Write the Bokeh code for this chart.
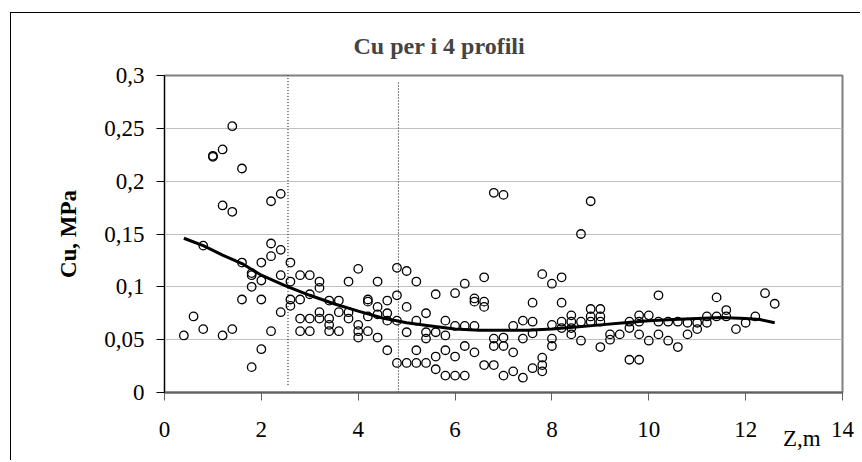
from bokeh.plotting import figure
from bokeh.models import FixedTicker, LinearAxis
from bokeh.embed import file_html
from bokeh.resources import INLINE

# ---- data ----
z_cols = [0.4, 0.6, 0.8, 1.0, 1.2, 1.4, 1.6, 1.8, 2.0, 2.2, 2.4, 2.6, 2.8, 3.0,
          3.2, 3.4, 3.6, 3.8, 4.0, 4.2, 4.4, 4.6, 4.8, 5.0, 5.2, 5.4, 5.6, 5.8,
          6.0, 6.2, 6.4, 6.6, 6.8, 7.0, 7.2, 7.4, 7.6, 7.8, 8.0, 8.2, 8.4, 8.6,
          8.8, 9.0, 9.2, 9.4, 9.6, 9.8, 10.0, 10.2, 10.4, 10.6, 10.8, 11.0,
          11.2, 11.4, 11.6, 11.8, 12.0, 12.2, 12.4, 12.6]

cu_cols = [
    [0.054],                        # 0.4
    [0.072],                        # 0.6
    [0.139, 0.060],                 # 0.8
    [0.224, 0.223],                 # 1.0
    [0.230, 0.177, 0.054],          # 1.2
    [0.252, 0.171, 0.060],          # 1.4
    [0.212, 0.123, 0.088],          # 1.6
    [0.113, 0.111, 0.100, 0.024],   # 1.8
    [0.123, 0.106, 0.088, 0.041],   # 2.0
    [0.181, 0.141, 0.129, 0.058],   # 2.2
    [0.188, 0.135, 0.111, 0.076],   # 2.4
    [0.123, 0.105, 0.088, 0.082],   # 2.6
    [0.111, 0.088, 0.070, 0.058],   # 2.8
    [0.111, 0.093, 0.070, 0.058],   # 3.0
    [0.105, 0.099, 0.076, 0.070],   # 3.2
    [0.087, 0.070, 0.064, 0.058],   # 3.4
    [0.087, 0.076, 0.058],          # 3.6
    [0.105, 0.076, 0.070],          # 3.8
    [0.117, 0.064, 0.058, 0.052],   # 4.0
    [0.088, 0.086, 0.072, 0.058],   # 4.2
    [0.105, 0.081, 0.074, 0.052],   # 4.4
    [0.087, 0.075, 0.068, 0.040],   # 4.6
    [0.118, 0.092, 0.068, 0.028],   # 4.8
    [0.115, 0.081, 0.057, 0.028],   # 5.0
    [0.105, 0.068, 0.040, 0.028],   # 5.2
    [0.075, 0.057, 0.051, 0.028],   # 5.4
    [0.093, 0.057, 0.034, 0.022],   # 5.6
    [0.068, 0.054, 0.040, 0.016],   # 5.8
    [0.094, 0.063, 0.034, 0.016],   # 6.0
    [0.103, 0.063, 0.044, 0.016],   # 6.2
    [0.089, 0.086, 0.063, 0.038],   # 6.4
    [0.109, 0.086, 0.081, 0.026],   # 6.6
    [0.189, 0.051, 0.044, 0.026],   # 6.8
    [0.187, 0.052, 0.044, 0.016],   # 7.0
    [0.063, 0.038, 0.020],          # 7.2
    [0.068, 0.051, 0.014],          # 7.4
    [0.085, 0.067, 0.056, 0.023],   # 7.6
    [0.112, 0.033, 0.026, 0.020],   # 7.8
    [0.103, 0.064, 0.051, 0.044],   # 8.0
    [0.109, 0.085, 0.067, 0.061],   # 8.2
    [0.073, 0.067, 0.061, 0.055],   # 8.4
    [0.150, 0.067, 0.049],          # 8.6
    [0.181, 0.079, 0.072, 0.067],   # 8.8
    [0.079, 0.072, 0.067, 0.043],   # 9.0
    [0.055, 0.050],                 # 9.2
    [0.055],                        # 9.4
    [0.067, 0.061, 0.031],          # 9.6
    [0.073, 0.067, 0.055, 0.031],   # 9.8
    [0.073, 0.049],                 # 10.0
    [0.092, 0.067, 0.055],          # 10.2
    [0.067, 0.049],                 # 10.4
    [0.067, 0.043],                 # 10.6
    [0.066, 0.055],                 # 10.8
    [0.066, 0.060],                 # 11.0
    [0.072, 0.066],                 # 11.2
    [0.090, 0.072],                 # 11.4
    [0.078, 0.072],                 # 11.6
    [0.060],                        # 11.8
    [0.066],                        # 12.0
    [0.072],                        # 12.2
    [0.094],                        # 12.4
    [0.084],                        # 12.6
]

trend_z = [0.4, 0.8, 1.2, 1.6, 2.0, 2.5, 3.0, 3.5, 4.0, 4.5, 5.0, 5.5, 6.0,
           6.5, 7.0, 7.5, 8.0, 8.5, 9.0, 9.5, 10.0, 10.5, 11.0, 11.5, 12.0,
           12.3, 12.6]
trend_cu = [0.146, 0.139, 0.130, 0.122, 0.111, 0.101, 0.092, 0.084, 0.077,
            0.0705, 0.066, 0.063, 0.060, 0.059, 0.059, 0.059, 0.060, 0.062,
            0.064, 0.066, 0.068, 0.069, 0.070, 0.071, 0.070, 0.069, 0.066]

boundary_z = [2.55, 4.83]
boundary_bottom = [0.007, 0.0]
boundary_top = [0.303, 0.295]

x_ticks = [0, 2, 4, 6, 8, 10, 12, 14]
x_tick_labels = ["0", "2", "4", "6", "8", "10", "12", "14"]
y_ticks = [0, 0.05, 0.1, 0.15, 0.2, 0.25, 0.3]
y_tick_labels = ["0", "0,05", "0,1", "0,15", "0,2", "0,25", "0,3"]

title_text = "Cu per i 4 profili"
y_title = "Cu, MPa"
x_title = "Z,m"
x_title_at = 13.16   # where the "Z,m" caption sits along the depth axis

# ---- build ----
z_pts, cu_pts = [], []
for zc, vals in zip(z_cols, cu_cols):
    for v in vals:
        z_pts.append(zc)
        cu_pts.append(v)

FONT = "Liberation Serif"

p = figure(width=850, height=448, x_range=(0, 14), y_range=(0, 0.3),
           output_backend="svg", toolbar_location=None,
           min_border_left=153, min_border_right=19,
           min_border_top=61, min_border_bottom=69,
           background_fill_color="white", border_fill_color="white")
p.styles = {"margin-left": "10px", "margin-top": "12px",
            "border-left": "1.5px solid black",
            "border-top": "1.5px solid black"}

p.title.text = title_text
p.title.text_font = FONT
p.title.text_font_style = "bold"
p.title.text_font_size = "24px"
p.title.align = "left"
p.title.offset = 189
p.title.standoff = 34

p.outline_line_color = "#808080"
p.outline_line_width = 2

p.xgrid.visible = False
p.ygrid.grid_line_color = "#c0c0c0"
p.ygrid.grid_line_width = 1

p.xaxis.ticker = FixedTicker(ticks=x_ticks)
p.xaxis.major_label_overrides = dict(zip(x_ticks, x_tick_labels))
p.yaxis.ticker = FixedTicker(ticks=y_ticks)
p.yaxis.major_label_overrides = dict(zip(y_ticks, y_tick_labels))

for ax in (p.xaxis, p.yaxis):
    ax.major_tick_in = 0
    ax.major_tick_out = 8
    ax.minor_tick_in = 0
    ax.minor_tick_out = 0
    ax.major_label_text_font = FONT
    ax.major_label_text_font_size = "23px"
    ax.major_label_text_color = "black"

p.xaxis.axis_line_color = "#606060"
p.xaxis.axis_line_width = 2
p.xaxis.major_tick_line_color = "#606060"
p.xaxis.major_label_standoff = 21

p.yaxis.axis_line_color = "black"
p.yaxis.axis_line_width = 1
p.yaxis.major_tick_line_color = "black"
p.yaxis.major_label_standoff = 12
p.yaxis.axis_label = y_title
p.yaxis.axis_label_text_font = FONT
p.yaxis.axis_label_text_font_style = "bold"
p.yaxis.axis_label_text_font_size = "23px"
p.yaxis.axis_label_text_color = "black"
p.yaxis.axis_label_standoff = 20

# caption "Z,m" next to the last tick label (an axis with no line or ticks)
cap = LinearAxis(ticker=FixedTicker(ticks=[x_title_at]),
                 major_label_overrides={x_title_at: x_title},
                 axis_line_color=None, major_tick_line_color=None,
                 minor_tick_line_color=None, major_tick_out=0,
                 major_tick_in=0, major_label_standoff=-14,
                 major_label_text_font=FONT,
                 major_label_text_font_size="23px",
                 major_label_text_color="black")
p.add_layout(cap, "below")

p.segment(x0=boundary_z, y0=boundary_bottom, x1=boundary_z, y1=boundary_top,
          line_color="black", line_width=1, line_dash="1 2")

p.scatter(z_pts, cu_pts, marker="circle", size=8.5, fill_color=None,
          line_color="black", line_width=1.3)

p.line(trend_z, trend_cu, line_color="black", line_width=3)

open("out.html", "w").write(file_html(p, INLINE))
